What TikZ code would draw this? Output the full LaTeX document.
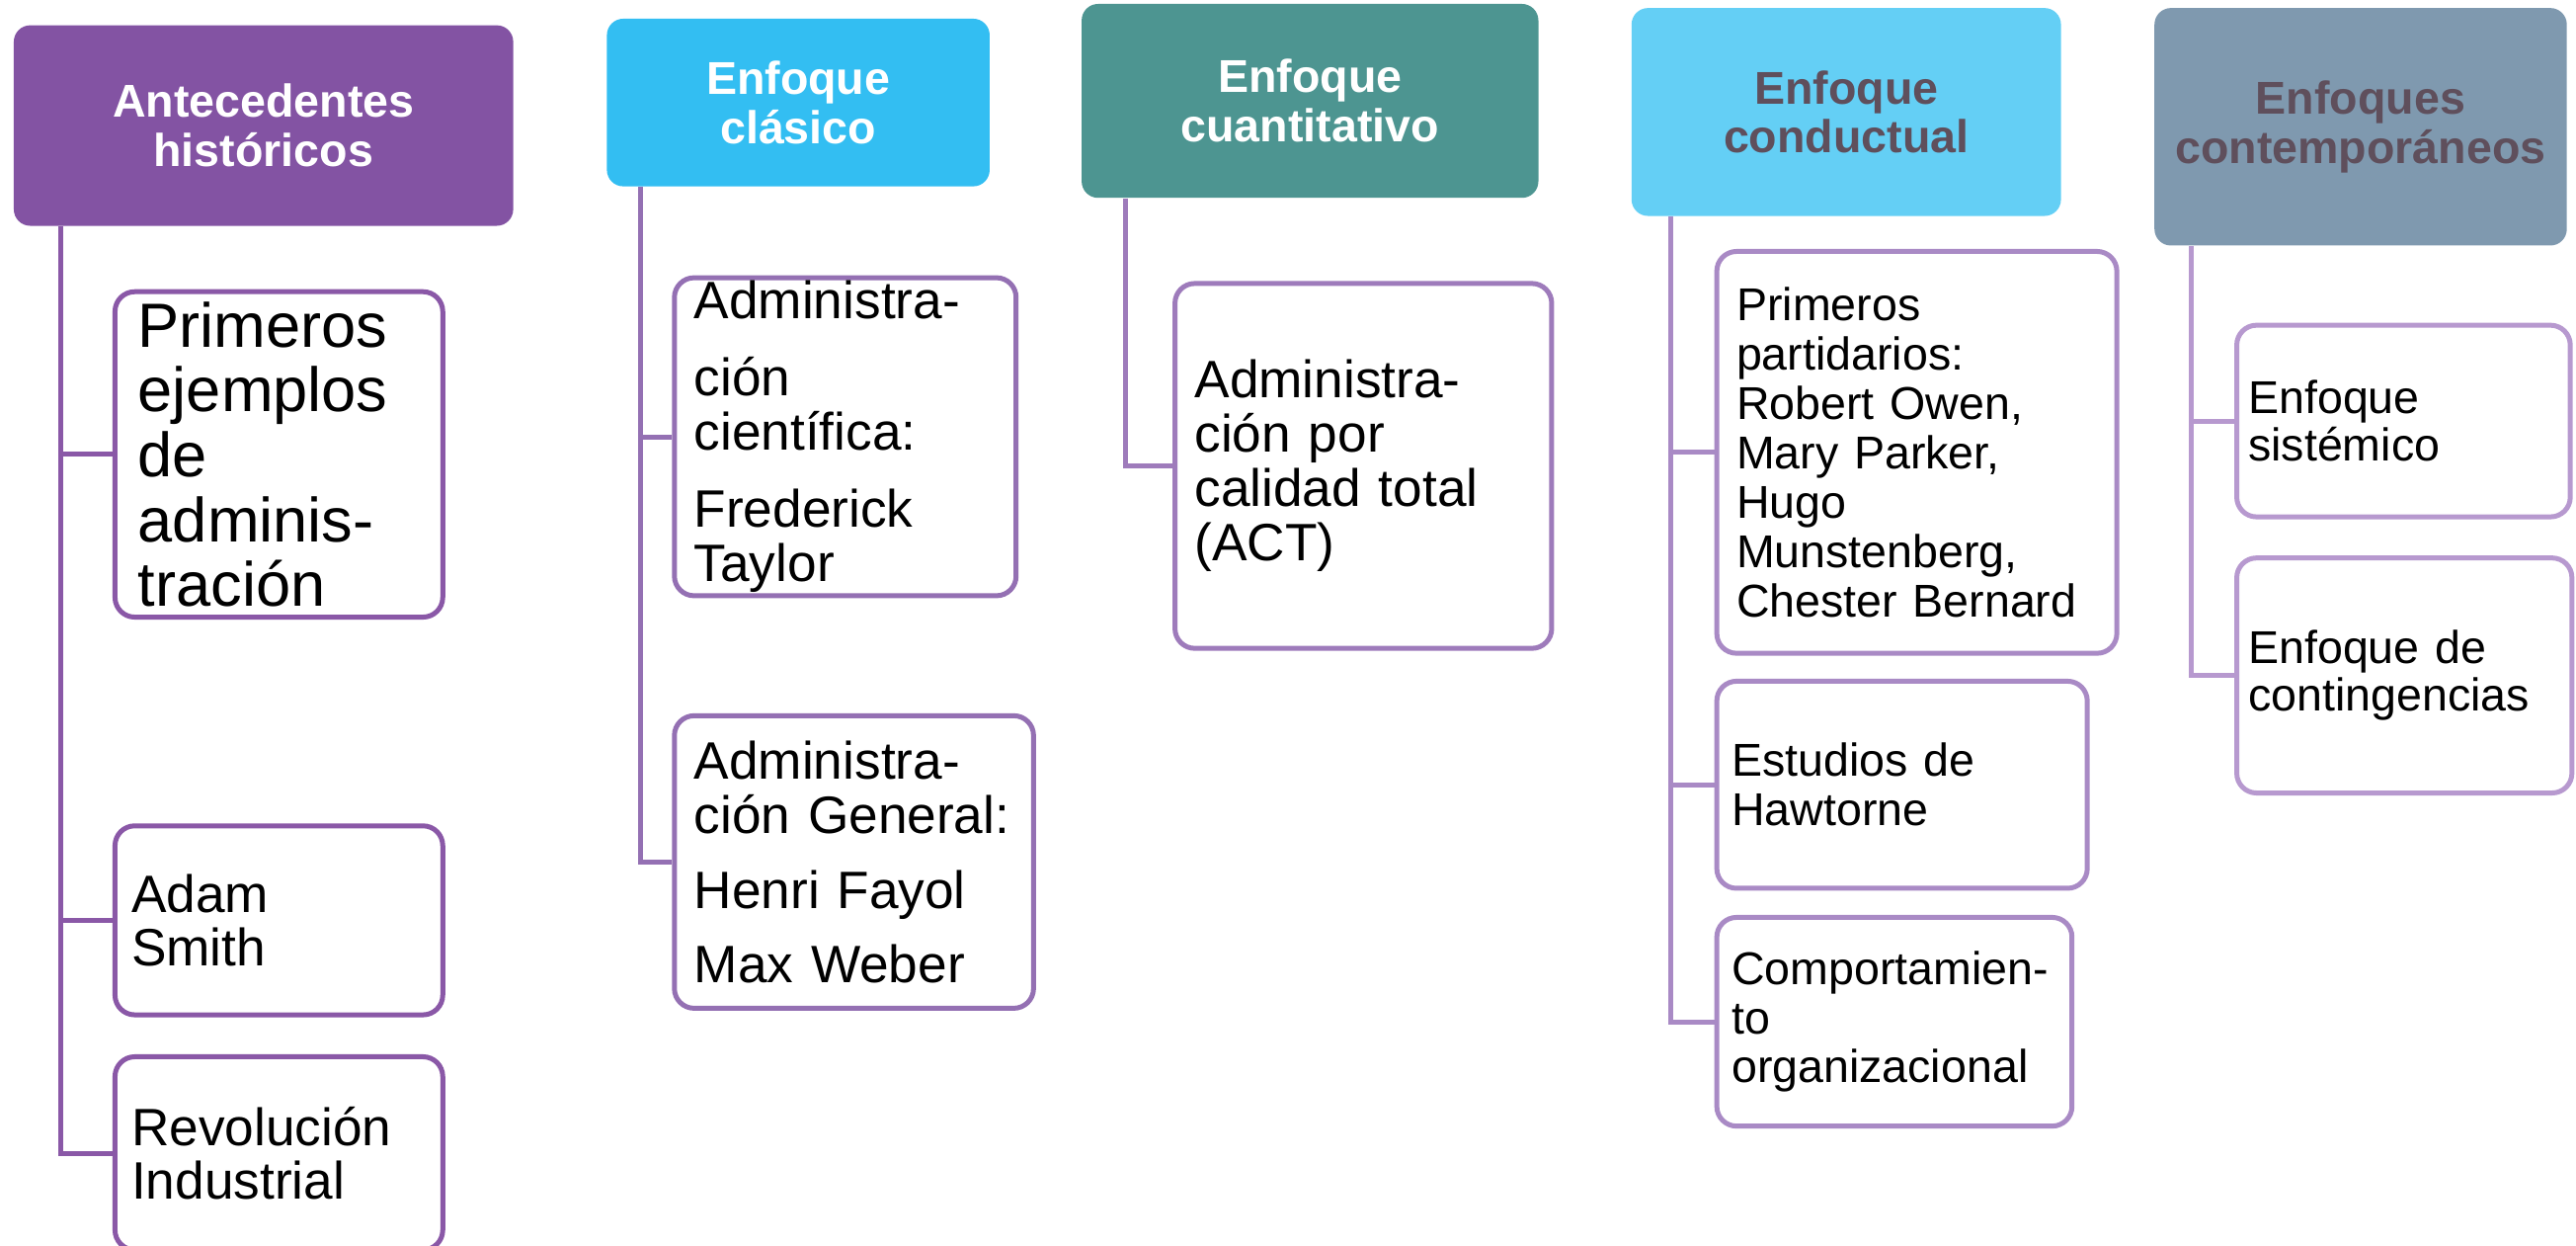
\documentclass[tikz,border=0pt]{standalone}
\usepackage{fontspec}
\setmainfont{Liberation Sans}
\usetikzlibrary{calc}

\definecolor{histfill}{HTML}{8353A3}
\definecolor{clasfill}{HTML}{33BEF2}
\definecolor{cuanfill}{HTML}{4D9591}
\definecolor{condfill}{HTML}{64CFF5}
\definecolor{contfill}{HTML}{7F99AF}
\definecolor{darktext}{HTML}{5F4F5C}
\definecolor{lineA}{HTML}{8A58A7}
\definecolor{lineB}{HTML}{9470B3}
\definecolor{lineC}{HTML}{9E7BBB}
\definecolor{lineD}{HTML}{A98AC5}
\definecolor{lineE}{HTML}{B799CF}

\tikzset{
  head/.style={rounded corners=5pt, inner sep=0pt, anchor=north west, align=center,
    font=\bfseries\fontsize{14}{15}\selectfont},
  item/.style={draw, line width=1.5pt, rounded corners=6pt, fill=white, anchor=north west,
    align=left, inner ysep=0pt, inner xsep=6pt},
  link/.style={line width=1.5pt}
}

\begin{document}
\begin{tikzpicture}[x=0.5pt,y=-0.5pt]
\useasboundingbox (0,0) rectangle (1568,758);

% cabeceras
\node[head, fill=histfill, text=white, text width=152pt, minimum height=61pt] (hist) at (8,15) {Antecedentes\\históricos};
\node[head, fill=clasfill, text=white, text width=116.5pt, minimum height=51pt] (clas) at (369,11) {Enfoque\\clásico};
\node[head, fill=cuanfill, text=white, text width=139pt, minimum height=59pt] (cuan) at (658,2) {Enfoque\\cuantitativo};
\node[head, fill=condfill, text=darktext, text width=130.7pt, minimum height=63.25pt] (cond) at (992.7,4.5) {Enfoque\\conductual};
\node[head, fill=contfill, text=darktext, text width=125.5pt, minimum height=72.25pt] (cont) at (1311,4.5) {Enfoques\\contemporáneos};

% antecedentes
\node[item, draw=lineA, inner xsep=7pt, text width=85.75pt, minimum height=99pt, font=\fontsize{19}{19.75}\selectfont] (ejem) at (68.5,176) {Primeros\\ejemplos\\de\\adminis-\\tración};
\node[item, draw=lineA, inner xsep=5pt, text width=89.75pt, minimum height=57.5pt, font=\fontsize{16}{16.5}\selectfont] (smith) at (68.5,501) {Adam\\Smith};
\node[item, draw=lineA, inner xsep=5pt, text width=89.75pt, minimum height=58.75pt, font=\fontsize{16}{16.5}\selectfont] (revo) at (68.5,641.5) {Revolución\\Industrial};

% clasico
\node[item, draw=lineB, text width=92pt, minimum height=96.75pt, font=\fontsize{16}{16.5}\selectfont] (cien) at (409,167.5) {Administra-\\[7pt]ción\\científica:\\[7pt]Frederick\\Taylor};
\node[item, draw=lineB, text width=97.3pt, minimum height=89pt, font=\fontsize{16}{16.5}\selectfont] (gene) at (409,434) {Administra-\\ción General:\\[6.5pt]Henri Fayol\\[6pt]Max Weber};

% cuantitativo
\node[item, draw=lineC, text width=102.65pt, minimum height=111pt, font=\fontsize{16}{16.5}\selectfont] (act) at (713.7,171) {Administra-\\ción por\\calidad total\\(ACT)};

% conductual
\node[item, draw=lineD, text width=109.75pt, minimum height=122.25pt, font=\fontsize{14}{15}\selectfont] (part) at (1043.5,151.5) {Primeros\\partidarios:\\Robert Owen,\\Mary Parker,\\Hugo\\Munstenberg,\\Chester Bernard};
\node[item, draw=lineD, inner xsep=4.5pt, text width=103.75pt, minimum height=63pt, font=\fontsize{14}{15}\selectfont] (hawt) at (1043.5,413) {Estudios de\\Hawtorne};
\node[item, draw=lineD, inner xsep=4.5pt, text width=99.1pt, minimum height=63.5pt, font=\fontsize{14}{15}\selectfont] (comp) at (1043.5,556.7) {Comportamien-\\to\\organizacional};

% contemporaneos
\node[item, draw=lineE, inner xsep=3.5pt, text width=94.5pt, minimum height=58.3pt, font=\fontsize{14}{14.5}\selectfont] (sist) at (1360,196.4) {Enfoque\\sistémico};
\node[item, draw=lineE, inner xsep=3.5pt, text width=95pt, minimum height=71.5pt, font=\fontsize{14}{14.5}\selectfont] (cong) at (1360,338) {Enfoque de\\contingencias};

% conectores
\draw[link, lineA] (hist.south west) ++(29,0) |- (ejem.west);
\draw[link, lineA] (hist.south west) ++(29,0) |- (smith.west);
\draw[link, lineA] (hist.south west) ++(29,0) |- (revo.west);
\draw[link, lineB] (clas.south west) ++(21,0) |- (cien.west);
\draw[link, lineB] (clas.south west) ++(21,0) |- (gene.west);
\draw[link, lineC] (cuan.south west) ++(27,0) |- (act.west);
\draw[link, lineD] (cond.south west) ++(24,0) |- (part.west);
\draw[link, lineD] (cond.south west) ++(24,0) |- (hawt.west);
\draw[link, lineD] (cond.south west) ++(24,0) |- (comp.west);
\draw[link, lineE] (cont.south west) ++(22.8,0) |- (sist.west);
\draw[link, lineE] (cont.south west) ++(22.8,0) |- (cong.west);

\end{tikzpicture}
\end{document}
